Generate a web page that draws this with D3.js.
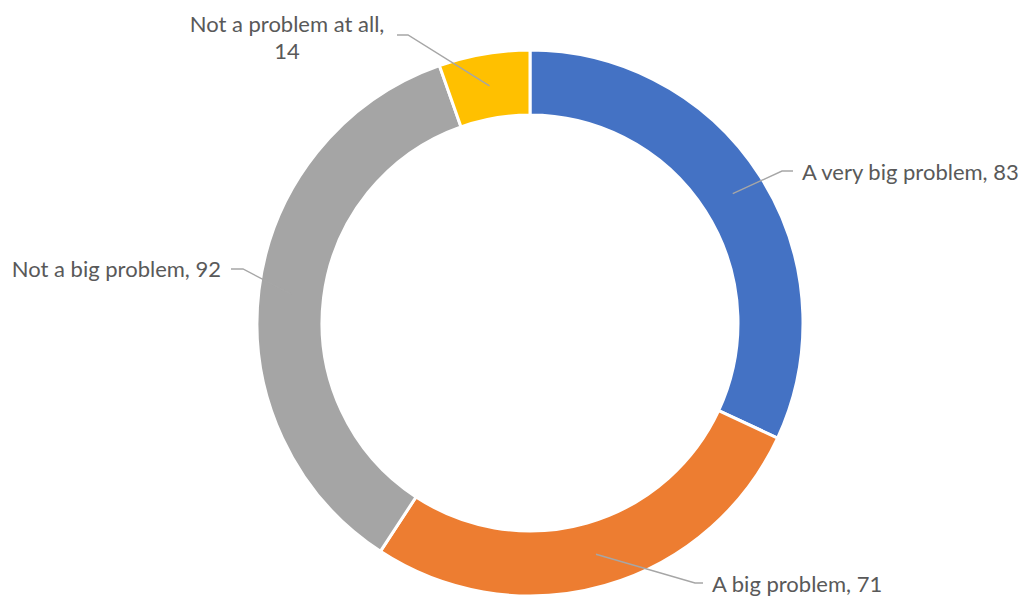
<!DOCTYPE html>
<html><head><meta charset="utf-8">
<script src="https://cdn.jsdelivr.net/npm/d3@7"></script>
<style>
html,body{margin:0;padding:0;background:#fff;}
svg{display:block;}
text{font-family:Lato,"Open Sans",sans-serif;fill:#595959;}
</style></head>
<body>
<svg id="chart" width="1024" height="596"></svg>
<script>
const categories = ["A very big problem", "A big problem", "Not a big problem", "Not a problem at all"];
const values = [83, 71, 92, 14];
const colors = ["#4472C4", "#ED7D31", "#A5A5A5", "#FFC000"];

// label layout (positions only)
const labelLayout = [
  {lines:["A very big problem, 83"], x:802, y:180, anchor:"start", kink:[782,171], end:[793,171]},
  {lines:["A big problem, 71"], x:712, y:592, anchor:"start", kink:[695,583], end:[703,583]},
  {lines:["Not a big problem, 92"], x:221, y:277, anchor:"end", kink:[243,269], end:[231,269]},
  {lines:["Not a problem at all,", "14"], x:287, y:32, anchor:"middle", kink:[408,35], end:[397,35]}
];

const svg = d3.select("#chart");
const cx = 530, cy = 323, R = 273, r0 = 208;
const g = svg.append("g").attr("transform", `translate(${cx},${cy})`);

const data = categories.map((c,i)=>({name:c, value:values[i], color:colors[i]}));
const pie = d3.pie().value(d=>d.value).sort(null);
const arcs = pie(data);
const arc = d3.arc().innerRadius(r0).outerRadius(R);

g.selectAll("path.slice").data(arcs).join("path")
  .attr("class","slice")
  .attr("d", arc)
  .attr("fill", d=>d.data.color)
  .attr("stroke", "#fff")
  .attr("stroke-width", 3)
  .attr("stroke-linejoin","round");

// leader lines
arcs.forEach((a,i)=>{
  const L = labelLayout[i];
  const c = arc.centroid(a);
  const p = [[c[0]+cx, c[1]+cy], L.kink, L.end];
  svg.append("path")
    .attr("d", d3.line()(p))
    .attr("fill","none")
    .attr("stroke","#A6A6A6")
    .attr("stroke-width",1.4);
});

// labels
labelLayout.forEach((L,i)=>{
  const t = svg.append("text")
    .attr("x", L.x).attr("y", L.y)
    .attr("text-anchor", L.anchor)
    .style("font-size","22px");
  L.lines.forEach((ln,j)=>{
    t.append("tspan").attr("x", L.x).attr("dy", j===0?0:27).text(ln);
  });
});
</script>
</body></html>
